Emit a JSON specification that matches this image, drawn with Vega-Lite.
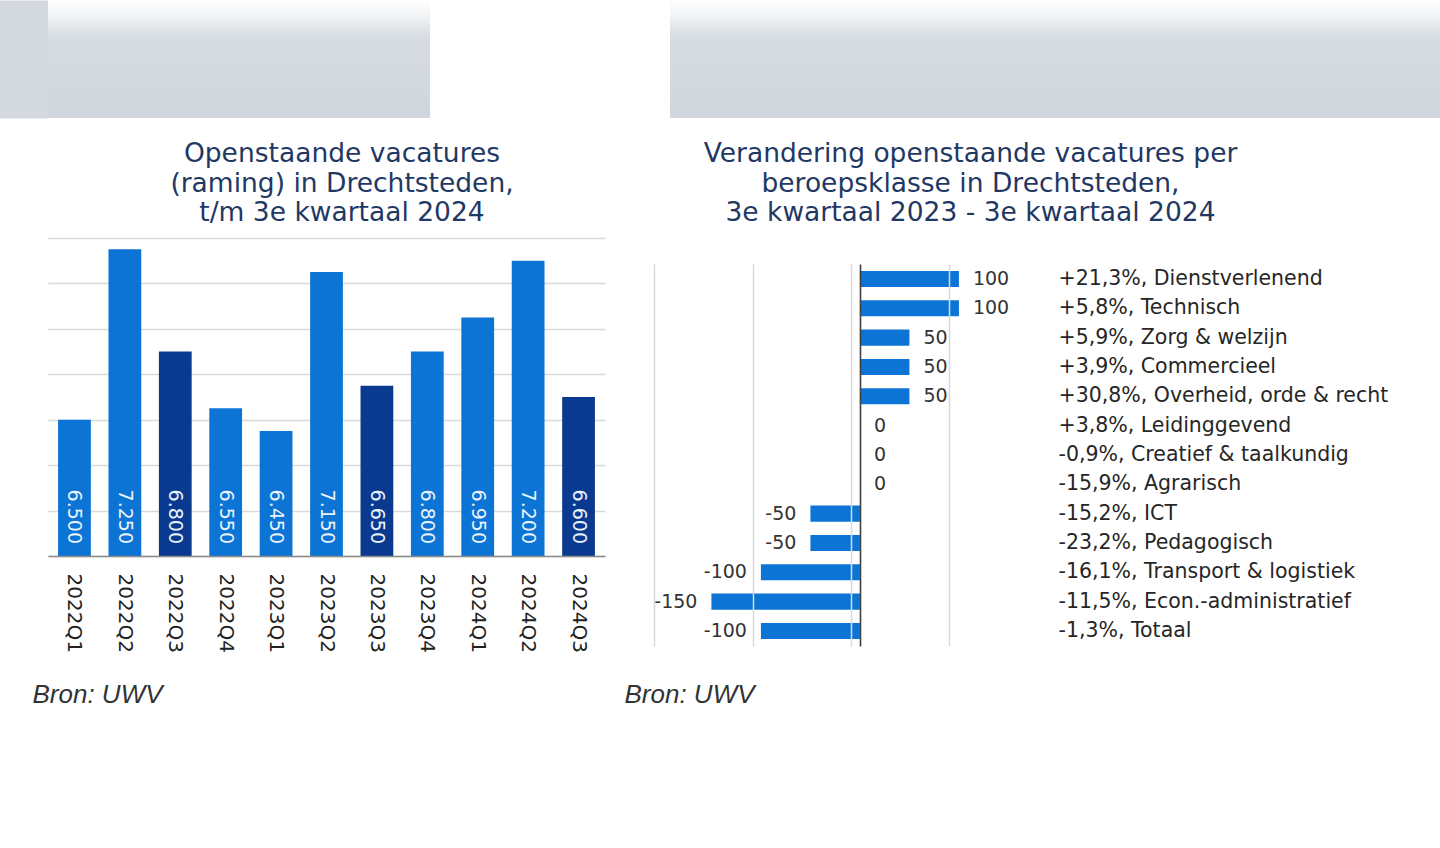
{
  "$schema": "https://vega.github.io/schema/vega-lite/v6.json",
  "background": "white",
  "padding": 0,
  "columns": 1,
  "spacing": 23,
  "config": {
    "locale": {"number": {"decimal": ",", "thousands": ".", "grouping": [3], "currency": ["€", ""], "minus": "-"}},
    "view": {"stroke": null},
    "font": "DejaVu Sans"
  },
  "datasets": {
    "vacatures": [
      {"periode": "2022Q1", "vacatures": 6500},
      {"periode": "2022Q2", "vacatures": 7250},
      {"periode": "2022Q3", "vacatures": 6800},
      {"periode": "2022Q4", "vacatures": 6550},
      {"periode": "2023Q1", "vacatures": 6450},
      {"periode": "2023Q2", "vacatures": 7150},
      {"periode": "2023Q3", "vacatures": 6650},
      {"periode": "2023Q4", "vacatures": 6800},
      {"periode": "2024Q1", "vacatures": 6950},
      {"periode": "2024Q2", "vacatures": 7200},
      {"periode": "2024Q3", "vacatures": 6600}
    ],
    "verandering": [
      {"klasse": "+21,3%, Dienstverlenend", "verandering": 100},
      {"klasse": "+5,8%, Technisch", "verandering": 100},
      {"klasse": "+5,9%, Zorg & welzijn", "verandering": 50},
      {"klasse": "+3,9%, Commercieel", "verandering": 50},
      {"klasse": "+30,8%, Overheid, orde & recht", "verandering": 50},
      {"klasse": "+3,8%, Leidinggevend", "verandering": 0},
      {"klasse": "-0,9%, Creatief & taalkundig", "verandering": 0},
      {"klasse": "-15,9%, Agrarisch", "verandering": 0},
      {"klasse": "-15,2%, ICT", "verandering": -50},
      {"klasse": "-23,2%, Pedagogisch", "verandering": -50},
      {"klasse": "-16,1%, Transport & logistiek", "verandering": -100},
      {"klasse": "-11,5%, Econ.-administratief", "verandering": -150},
      {"klasse": "-1,3%, Totaal", "verandering": -100}
    ],
    "blok": [{"v": 0.5}]
  },
  "concat": [
    {
      "columns": 2,
      "spacing": 240,
      "concat": [
        {
          "width": 382, "height": 118,
          "data": {"name": "blok"},
          "layer": [
            {
              "mark": {"type": "rect", "color": {"gradient": "linear", "x1": 0, "y1": 0, "x2": 0, "y2": 1, "stops": [{"offset": 0, "color": "#ffffff"}, {"offset": 0.12, "color": "#f3f5f7"}, {"offset": 0.32, "color": "#d6dce2"}, {"offset": 1, "color": "#d0d6dd"}]}},
              "encoding": {}
            },
            {
              "mark": {"type": "point", "opacity": 0, "size": 1},
              "encoding": {
                "y": {"field": "v", "type": "quantitative", "scale": {"domain": [0, 1]},
                  "axis": {"orient": "left", "offset": 48, "domain": true, "domainWidth": 96, "domainColor": "#d3d9df", "domainCap": "butt", "labels": false, "ticks": false, "grid": false, "title": null}}
              }
            }
          ]
        },
        {
          "width": 770, "height": 118,
          "data": {"name": "blok"},
          "mark": {"type": "rect", "color": {"gradient": "linear", "x1": 0, "y1": 0, "x2": 0, "y2": 1, "stops": [{"offset": 0, "color": "#ffffff"}, {"offset": 0.12, "color": "#f3f5f7"}, {"offset": 0.32, "color": "#d6dce2"}, {"offset": 1, "color": "#d0d6dd"}]}},
          "encoding": {}
        }
      ]
    },
    {
      "columns": 2,
      "spacing": 19,
      "concat": [
        {
          "width": 557, "height": 318,
          "title": {"text": ["Openstaande vacatures", "(raming) in Drechtsteden,", "t/m 3e kwartaal 2024"], "color": "#1f3864", "font": "DejaVu Sans", "fontSize": 26.5, "fontWeight": "normal", "lineHeight": 29.7, "offset": 11, "frame": "group", "anchor": "middle", "dx": 15.5},
          "data": {"name": "vacatures"},
          "encoding": {
            "x": {"field": "periode", "type": "nominal", "sort": null, "scale": {"paddingInner": 0.35, "paddingOuter": 0.2},
              "axis": {"title": "Bron: UWV", "labelAngle": 90, "labelAlign": "left", "labelBaseline": "middle", "labelPadding": 17, "labelFontSize": 20, "labelColor": "#222222", "ticks": false, "tickSize": 0, "domainColor": "#8c8c8c", "domainWidth": 1.5, "titleX": -16, "titleY": 138, "titleAlign": "left", "titleBaseline": "middle", "titleFont": "Liberation Sans", "titleFontStyle": "italic", "titleFontWeight": "normal", "titleFontSize": 26, "titleColor": "#333333", "zindex": 1}},
            "y": {"field": "vacatures", "type": "quantitative", "scale": {"domain": [5900, 7300], "nice": false, "zero": false},
              "axis": {"title": null, "values": [5900, 6100, 6300, 6500, 6700, 6900, 7100, 7300], "grid": true, "gridColor": "#d9d9d9", "gridWidth": 1.5, "domain": false, "ticks": false, "tickSize": 0, "labels": false}}
          },
          "layer": [
            {"mark": {"type": "bar"}, "encoding": {"y2": {"datum": 5900}, "color": {"condition": {"test": "indexof(datum.periode, 'Q3') >= 0", "value": "#0a3a8f"}, "value": "#0b74d4"}}},
            {"mark": {"type": "text", "angle": 90, "align": "right", "baseline": "middle", "dx": -12, "fontSize": 19, "color": "#eaf2fb"},
             "encoding": {"y": {"datum": 5900}, "text": {"field": "vacatures", "type": "quantitative", "format": ",d"}}}
          ]
        },
        {
          "width": 396, "height": 408,
          "title": {"text": ["Verandering openstaande vacatures per", "beroepsklasse in Drechtsteden,", "3e kwartaal 2023 - 3e kwartaal 2024"], "color": "#1f3864", "font": "DejaVu Sans", "fontSize": 26.5, "fontWeight": "normal", "lineHeight": 29.7, "offset": 11, "frame": "group", "anchor": "middle", "dx": 118.5},
          "layer": [
            {
              "data": {"name": "verandering"},
              "mark": {"type": "bar", "color": "#0b74d4"},
              "encoding": {
                "y": {"field": "klasse", "type": "nominal", "sort": null, "scale": {"paddingInner": 0.45, "paddingOuter": 0.68, "align": 0.825},
                  "axis": {"orient": "right", "title": null, "ticks": false, "tickSize": 0, "domain": false, "labelPadding": 8, "labelFontSize": 20.5, "labelColor": "#262626", "labelLimit": 500, "labelAlign": "left", "labelBaseline": "middle"}},
                "x": {"field": "verandering", "type": "quantitative", "scale": {"domain": [-208, 192], "nice": false},
                  "axis": {"title": "Bron: UWV", "values": [-208, -108, -9, 0, 90], "grid": false, "labels": false, "ticks": true, "tickSize": -382, "tickCap": "butt", "tickWidth": {"condition": {"test": "datum.value === 0", "value": 1.6}, "value": 1.5}, "tickColor": {"condition": {"test": "datum.value === 0", "value": "#404040"}, "value": "#d9d9d9"}, "domain": false, "titleX": -30, "titleY": 48, "titleAlign": "left", "titleBaseline": "middle", "titleFont": "Liberation Sans", "titleFontStyle": "italic", "titleFontWeight": "normal", "titleFontSize": 26, "titleColor": "#333333", "zindex": 1}}
              }
            },
            {
              "data": {"name": "verandering"},
              "transform": [{"filter": "datum.verandering >= 0"}],
              "mark": {"type": "text", "align": "left", "baseline": "middle", "dx": 14, "fontSize": 19, "color": "#333333"},
              "encoding": {
                "y": {"field": "klasse", "type": "nominal", "sort": null},
                "x": {"field": "verandering", "type": "quantitative"},
                "text": {"field": "verandering", "type": "quantitative", "format": "d"}
              }
            },
            {
              "data": {"name": "verandering"},
              "transform": [{"filter": "datum.verandering < 0"}],
              "mark": {"type": "text", "align": "right", "baseline": "middle", "dx": -14, "fontSize": 19, "color": "#333333"},
              "encoding": {
                "y": {"field": "klasse", "type": "nominal", "sort": null},
                "x": {"field": "verandering", "type": "quantitative"},
                "text": {"field": "verandering", "type": "quantitative", "format": "d"}
              }
            }
          ]
        }
      ]
    }
  ]
}
